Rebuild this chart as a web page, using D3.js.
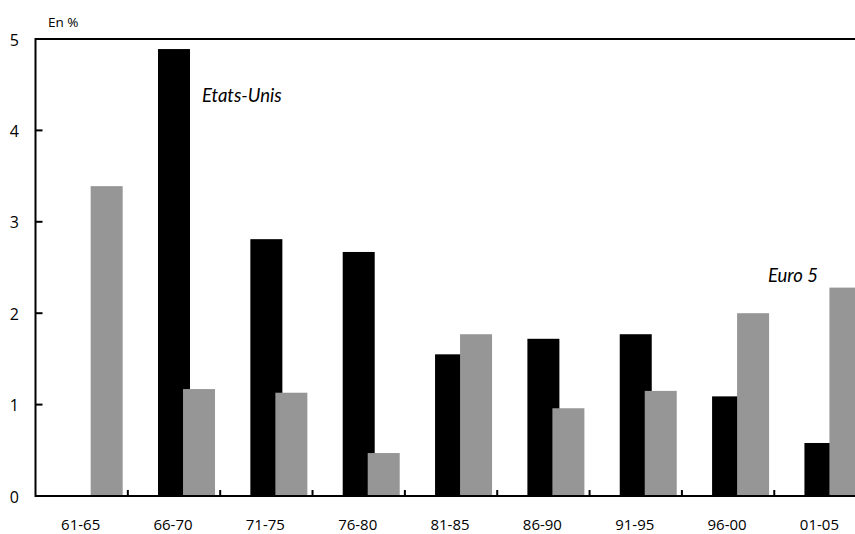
<!DOCTYPE html>
<html><head><meta charset="utf-8">
<script src="https://cdn.jsdelivr.net/npm/d3@7"></script>
<style>body{margin:0;background:#fff;overflow:hidden}</style>
</head><body>
<svg id="c" width="855" height="534"></svg>
<script>
const categories = ["61-65","66-70","71-75","76-80","81-85","86-90","91-95","96-00","01-05"];
const usValues   = [null, 4.89, 2.81, 2.67, 1.55, 1.72, 1.77, 1.09, 0.58];
const euroValues = [3.39, 1.17, 1.13, 0.47, 1.77, 0.96, 1.15, 2.00, 2.28];
const yTicks = [0,1,2,3,4,5];

(function(){
const svg = d3.select("#c");
const mLeft = 35.5, mRight = 866.6, mTop = 39, mBottom = 496;
const x = d3.scaleBand().domain(categories).range([mLeft, mRight]).padding(0);
const y = d3.scaleLinear().domain([0,5]).range([mBottom, mTop]);
const bw = 32, off = 25;

// bars
svg.append("g").selectAll("rect").data(categories.map((c,i)=>({c,v:usValues[i]})).filter(d=>d.v!=null))
  .join("rect")
  .attr("x", d => x(d.c) + x.bandwidth()/2 - bw/2)
  .attr("y", d => y(d.v)).attr("width", bw).attr("height", d => y(0)-y(d.v))
  .attr("fill", "#000");
svg.append("g").selectAll("rect").data(categories.map((c,i)=>({c,v:euroValues[i]})))
  .join("rect")
  .attr("x", d => x(d.c) + x.bandwidth()/2 - bw/2 + off)
  .attr("y", d => y(d.v)).attr("width", bw).attr("height", d => y(0)-y(d.v))
  .attr("fill", "#969696");

// frame lines
svg.append("line").attr("x1", mLeft).attr("x2", 860).attr("y1", mTop).attr("y2", mTop).attr("stroke","#000").attr("stroke-width",2);
svg.append("line").attr("x1", mLeft).attr("x2", mLeft).attr("y1", mTop-1).attr("y2", mBottom+1).attr("stroke","#000").attr("stroke-width",2);
svg.append("line").attr("x1", mLeft).attr("x2", 860).attr("y1", mBottom).attr("y2", mBottom).attr("stroke","#000").attr("stroke-width",2);

// y ticks
const yg = svg.append("g");
yg.selectAll("line").data(yTicks.filter(t=>t>0 && t<5)).join("line")
  .attr("x1", mLeft).attr("x2", mLeft+7).attr("y1", d=>y(d)).attr("y2", d=>y(d))
  .attr("stroke","#000").attr("stroke-width",2);
yg.selectAll("text").data(yTicks).join("text")
  .attr("x", 19).attr("y", d=>y(d)+1).attr("dy","0.35em").attr("text-anchor","end")
  .attr("font-family","Open Sans, sans-serif").attr("font-size",16).text(d=>d);

// x ticks at category boundaries
const xg = svg.append("g");
xg.selectAll("line").data(categories.slice(1)).join("line")
  .attr("x1", d=>x(d)).attr("x2", d=>x(d)).attr("y1", mBottom).attr("y2", mBottom-6)
  .attr("stroke","#000").attr("stroke-width",2);
xg.selectAll("text").data(categories).join("text")
  .attr("x", d=>x(d)+x.bandwidth()/2 - 1).attr("y", 530).attr("text-anchor","middle")
  .attr("font-family","Open Sans, sans-serif").attr("font-size",15).text(d=>d);

svg.append("text").attr("x",48).attr("y",27).attr("font-family","Open Sans, sans-serif").attr("font-size",13.5).text("En %");
svg.append("text").attr("x",202).attr("y",102).attr("font-family","Lato, sans-serif").attr("font-style","italic").attr("font-size",18.5).text("Etats-Unis");
svg.append("text").attr("x",768).attr("y",282).attr("font-family","Lato, sans-serif").attr("font-style","italic").attr("font-size",18.5).text("Euro 5");
})();
</script>
</body></html>
